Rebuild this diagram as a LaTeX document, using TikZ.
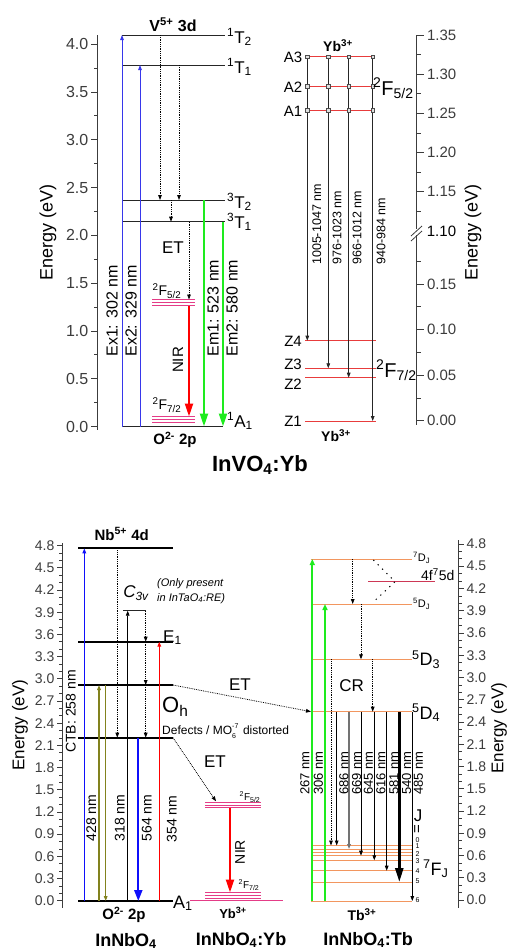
\documentclass[tikz,border=0pt]{standalone}
\usepackage{fontspec}
\setmainfont{Liberation Sans}
\usepackage{xcolor}
\usetikzlibrary{arrows.meta, positioning, calc}
\definecolor{exblue}{RGB}{55,55,235}
\definecolor{pumpblue}{RGB}{15,15,250}
\definecolor{emgreen}{RGB}{30,235,30}
\definecolor{ybpink}{RGB}{228,60,135}
\definecolor{ybred}{RGB}{232,60,60}
\definecolor{tborange}{RGB}{242,150,95}
\definecolor{fdred}{RGB}{205,55,85}
\definecolor{mkolive}{RGB}{130,130,30}
\definecolor{axgray}{RGB}{60,60,60}
\newcommand{\fsz}[1]{\fontsize{#1}{#1}\selectfont}

\begin{document}
\begin{tikzpicture}[x=1pt, y=-1pt,
    lvl/.style={line width=0.7pt, black!85},
    blvl/.style={line width=1.8pt},
    ybl/.style={ybpink, line width=0.8pt},
    tbl/.style={tborange, line width=1pt},
    tarr/.style={-{Triangle[length=5pt,width=3.6pt]}},
    farr/.style={line width=2.2pt, -{Triangle[length=13pt,width=8pt]}},
    relax/.style={densely dotted, line width=0.8pt, -{Triangle[length=5pt,width=3.6pt]}},
    lab/.style={inner sep=0pt, font=\fsz{15}},
    vlab/.style={inner sep=0pt, rotate=90, font=\fsz{15}},
    axtick/.style={axgray, line width=0.8pt},
    sq/.style={draw=black!70, fill=black!12, minimum size=3.6pt, inner sep=0pt, line width=0.5pt}]
\useasboundingbox (0,0) rectangle (508,951);

\draw[axtick] (97.7,35) -- (97.7,430);
\foreach \i in {0,...,16} \draw[axtick] (97.7,{426.5-23.9*\i}) -- ++(-4,0);
\foreach \v in {0.0,0.5,1.0,1.5,2.0,2.5,3.0,3.5,4.0}
  \draw[axtick] (97.7,{426.5-95.6*\v}) -- ++(-7,0) node[lab, font=\fsz{16}, anchor=east, xshift=-2pt] {\v};
\node[vlab, font=\fsz{18}] (enV) at (48,232) {Energy (eV)};

\coordinate (vT2) at (122,35);
\coordinate (vT1) at (122,65);
\coordinate (vS2) at (122,200);
\coordinate (vS1) at (122,221.7);
\coordinate (vA1) at (122,426.5);
\coordinate (vF52) at (152,299.5);
\coordinate (vF72) at (152,416.5);
\foreach \c in {vT2,vT1,vS2,vS1} \draw[lvl] (\c) -- ++(103,0);
\draw[lvl] (vA1) -- ++(101,0);
\foreach \d in {0,3,6} {
  \draw[ybl] ($(vF52)+(0,\d)$) -- ++(43,0);
  \draw[ybl] ($(vF72)+(0,\d)$) -- ++(43,0);
}
\draw[tarr, exblue, line width=0.8pt] (vA1) -- (vT2);
\draw[tarr, exblue, line width=0.8pt] (140,0 |- vA1) -- (140,0 |- vT1);
\draw[relax] (160,0 |- vT2) -- (160,0 |- vS2);
\draw[relax] (179,0 |- vT1) -- (179,0 |- vS2);
\draw[relax] (171,0 |- vS2) -- (171,0 |- vS1);
\draw[relax] (189,0 |- vS1) -- (189,0 |- vF52);
\draw[farr, red] (189,305.5) -- (189,0 |- vF72);
\draw[farr, emgreen] (204,0 |- vS2) -- (204,0 |- vA1);
\draw[farr, emgreen] (223,0 |- vS1) -- (223,0 |- vA1);

\node[lab, font=\bfseries\fsz{16}] (v3d) at (173,25) {V\textsuperscript{5+} 3d};
\node[lab, font=\fsz{17}, anchor=base west] (lT2) at (227,43) {\textsuperscript{1}T\textsubscript{2}};
\node[lab, font=\fsz{17}, anchor=base west] (lT1) at (227,73) {\textsuperscript{1}T\textsubscript{1}};
\node[lab, font=\fsz{17}, anchor=base west] (lS2) at (227,208) {\textsuperscript{3}T\textsubscript{2}};
\node[lab, font=\fsz{17}, anchor=base west] (lS1) at (227,228) {\textsuperscript{3}T\textsubscript{1}};
\node[lab, font=\fsz{17}, anchor=base west] (lA1) at (227,427) {\textsuperscript{1}A\textsubscript{1}};
\node[lab, font=\fsz{17}] (etV) at (173,248) {ET};
\node[lab, font=\fsz{14}] (lF52) at (167,291) {\textsuperscript{2}F\textsubscript{5/2}};
\node[lab, font=\fsz{14}] (lF72) at (167,405) {\textsuperscript{2}F\textsubscript{7/2}};
\node[vlab, font=\fsz{15}] (nirV) at (178,360) {NIR};
\node[vlab, font=\fsz{16}] (ex1) at (112,311) {Ex1: 302 nm};
\node[vlab, font=\fsz{16}] (ex2) at (131,311) {Ex2: 329 nm};
\node[vlab, font=\fsz{16}] (em1) at (213,308) {Em1: 523 nm};
\node[vlab, font=\fsz{16}] (em2) at (232,308) {Em2: 580 nm};
\node[lab, font=\bfseries\fsz{15}] (o2pV) at (175,440) {O\textsuperscript{2-} 2p};
\node[lab, font=\bfseries\fsz{22}] (tInV) at (260,465) {InVO\textsubscript{4}:Yb};

\draw[axtick] (416.7,35) -- (416.7,425);
\foreach \i in {1,...,9} \draw[axtick] (416.7,{231-19.6*\i}) -- ++(4,0);
\foreach \i in {0,...,7} \draw[axtick] (416.7,{420.7-22.8*\i}) -- ++(4,0);
\foreach \v in {1.15,1.20,1.25,1.30,1.35}
  \draw[axtick] (416.7,{231-784*(\v-1.10)}) -- ++(7,0) node[lab, anchor=west, xshift=3pt] {\v};
\foreach \v in {0.00,0.05,0.10,0.15}
  \draw[axtick] (416.7,{420.7-911*\v}) -- ++(7,0) node[lab, anchor=west, xshift=3pt] {\v};
\node[lab, anchor=west] (brk) at (426.7,231) {1.10};
\fill[white] (413,229) rectangle (420,235);
\draw[axtick] (411,236) -- (422,226);
\draw[axtick] (411,241) -- (422,231);
\node[vlab, font=\fsz{18}] (enY) at (473,232) {Energy (eV)};

\coordinate (yA3) at (307.3,56.7);
\coordinate (yA2) at (307.3,86);
\coordinate (yA1) at (307.3,110);
\coordinate (yZ4) at (305,340.7);
\coordinate (yZ3) at (305,368.3);
\coordinate (yZ2) at (305,377.7);
\coordinate (yZ1) at (305,421);
\foreach \c in {yA3,yA2,yA1} \draw[ybred, line width=1pt] (\c) -- ++(67,0);
\foreach \c in {yZ4,yZ3,yZ2,yZ1} \draw[ybred, line width=1pt] (\c) -- ++(71,0);
\foreach \x/\z in {307.3/yZ4, 328.3/yZ3, 348.7/yZ2, 372.7/yZ1} {
  \draw[tarr, black!85, line width=0.8pt] (\x,0 |- yA3) -- (\x,0 |- \z);
  \foreach \a in {yA3,yA2,yA1} \node[sq] at (\x,0 |- \a) {};
}
\foreach \x/\txt in {316.7/1005-1047, 337/976-1023, 357/966-1012, 381/940-984}
  \node[vlab, font=\fsz{12.5}, anchor=west] at (\x,265) {\txt{} nm};
\foreach \c/\txt in {yA3/A3, yA2/A2, yA1/A1}
  \node[lab, anchor=east] at ($(\c)+(-5,1)$) {\txt};
\foreach \y/\txt in {341.5/Z4, 364.5/Z3, 384/Z2, 421/Z1}
  \node[lab, anchor=east] at (302,\y) {\txt};
\node[lab, font=\bfseries\fsz{14}] (ybA) at (338,46) {Yb\textsuperscript{3+}};
\node[lab, font=\bfseries\fsz{14}] (ybZ) at (336,436) {Yb\textsuperscript{3+}};
\node[lab, font=\fsz{20}, anchor=west] (lF52y) at (373,88) {\textsuperscript{2}F\textsubscript{5/2}};
\node[lab, font=\fsz{20}, anchor=west] (lF72y) at (376,370) {\textsuperscript{2}F\textsubscript{7/2}};

\draw[axtick] (62.7,543) -- (62.7,908);
\foreach \i in {0,...,48} \draw[axtick] (62.7,{900.7-7.396*\i}) -- ++(-3.5,0);
\foreach \v in {0.0,0.3,0.6,0.9,1.2,1.5,1.8,2.1,2.4,2.7,3.0,3.3,3.6,3.9,4.2,4.5,4.8}
  \draw[axtick] (62.7,{900.7-73.96*\v}) -- ++(-6,0) node[lab, font=\fsz{14}, anchor=east, xshift=-2pt] {\v};
\node[vlab, font=\fsz{17}] (enN) at (20,725) {Energy (eV)};

\coordinate (nb4d) at (78,548.3);
\coordinate (c3v) at (123,610.7);
\coordinate (e1) at (78,641.7);
\coordinate (oh) at (78,685);
\coordinate (dft) at (78,737.7);
\coordinate (o2p) at (78,901);
\foreach \c in {nb4d,e1,oh,dft,o2p} \draw[blvl] (\c) -- ++(95,0);
\draw[lvl] (c3v) -- ++(23,0);
\draw[tarr, pumpblue, line width=1.6pt] (84.3,0 |- o2p) -- (84.3,0 |- nb4d);
\draw[tarr, mkolive, line width=1.1pt] (99,0 |- o2p) -- (99,0 |- oh);
\draw[tarr, mkolive, line width=1.1pt] (105.7,0 |- oh) -- (105.7,0 |- o2p);
\draw[tarr, line width=0.7pt] (127.7,0 |- o2p) -- (127.7,0 |- c3v);
\draw[pumpblue, line width=2pt, -{Triangle[length=11pt,width=8pt]}] (138.3,0 |- dft) -- (138.3,0 |- o2p);
\draw[tarr, red, line width=1.2pt] (159.3,0 |- o2p) -- (159.3,0 |- e1);
\draw[relax] (117.3,0 |- nb4d) -- (117.3,0 |- dft);
\draw[relax] (145.7,0 |- c3v) -- (145.7,0 |- e1);
\draw[relax] (145.7,0 |- e1) -- (145.7,0 |- oh);
\draw[relax] (145.7,0 |- oh) -- (145.7,0 |- dft);

\node[lab, font=\bfseries\fsz{15}] (nbl) at (121.7,534) {Nb\textsuperscript{5+} 4d};
\node[lab, font=\itshape\fsz{17}] (c3vl) at (136,593) {C\textsubscript{3v}};
\node[lab, font=\itshape\fontsize{11}{15}\selectfont, anchor=west, align=left] (onlyl) at (157,591) {(Only present\\in InTaO\textsubscript{4}:RE)};
\node[lab, font=\fsz{17}, anchor=base west] (e1l) at (163,642) {E\textsubscript{1}};
\node[lab, font=\fsz{22}, anchor=base west] (ohl) at (162,712) {O\textsubscript{h}};
\node[lab, font=\fsz{12}, anchor=west] (dftl) at (162,731) {Defects / MO\rlap{\raisebox{0.5em}{\fsz{7}-7}}\raisebox{-0.3em}{\fsz{7}6}\kern0.3em{} distorted};
\node[lab, font=\fsz{18}, anchor=base west] (a1l) at (173,908) {A\textsubscript{1}};
\node[vlab, font=\fsz{14}] (ctb) at (70.7,711.5) {CTB: 258 nm};
\node[vlab, font=\fsz{14}] (w428) at (91.3,818) {428 nm};
\node[vlab, font=\fsz{14}] (w318) at (119.7,818) {318 nm};
\node[vlab, font=\fsz{14}] (w564) at (146.7,818) {564 nm};
\node[vlab, font=\fsz{14}] (w354) at (171.7,819) {354 nm};
\node[lab, font=\bfseries\fsz{15}] (o2pl) at (124,915) {O\textsuperscript{2-} 2p};
\node[lab, font=\bfseries\fsz{18}] (tInN) at (126,941) {InNbO\textsubscript{4}};

\coordinate (ybF52) at (205,802.3);
\coordinate (ybF72) at (205,892.5);
\coordinate (ybG) at (190,900.7);
\foreach \d in {0,2.7,5.4} {
  \draw[ybl] ($(ybF52)+(0,\d)$) -- ++(56,0);
  \draw[ybl] ($(ybF72)+(0,\d)$) -- ++(56,0);
}
\draw[ybl] (ybG) -- ++(93,0);
\draw[farr, red] (230,808) -- (230,0 |- ybF72);
\draw[relax] ($(dft)+(95,0)$) -- ($(ybF52)+(11,-1)$);
\node[lab, font=\fsz{17}] (etY) at (215,762) {ET};
\node[lab, font=\fsz{10}] (l52b) at (250,797) {\textsuperscript{2}F\textsubscript{5/2}};
\node[lab, font=\fsz{10}] (l72b) at (249,885) {\textsuperscript{2}F\textsubscript{7/2}};
\node[vlab, font=\fsz{14}] (nirB) at (240,852) {NIR};
\node[lab, font=\bfseries\fsz{13}] (ybB) at (233,913) {Yb\textsuperscript{3+}};
\node[lab, font=\bfseries\fsz{18}] (tInY) at (241,940) {InNbO\textsubscript{4}:Yb};

\coordinate (tD7) at (311,559);
\coordinate (t45d) at (368,581.7);
\coordinate (tDJ) at (311,604);
\coordinate (tD3) at (311,659.3);
\coordinate (tD4) at (311,711.7);
\foreach \c in {tD7,tDJ,tD3,tD4} \draw[tbl] (\c) -- ++(101,0);
\draw[fdred, line width=1pt] (t45d) -- ++(67,0);
\foreach \y in {845.5,849,852,855.7,860.3,870.7,882,901} \draw[tbl] (311,\y) -- (412,\y);
\draw[emgreen, line width=1.8pt, -{Triangle[length=6pt,width=5pt]}] (312.3,901) -- (312.3,0 |- tD7);
\draw[emgreen, line width=1.8pt, -{Triangle[length=6pt,width=5pt]}] (325,901) -- (325,0 |- tDJ);
\draw[relax] (352.7,0 |- tD7) -- (352.7,0 |- tDJ);
\draw[relax] (361,0 |- tDJ) -- (361,0 |- tD3);
\draw[relax] (372.7,0 |- tD3) -- (372.7,0 |- tD4);
\draw[relax] (331,0 |- tD3) -- (331,845.5);
\draw[dash pattern=on 1.2pt off 5pt, line width=1pt] (373.3,560) -- (395,0 |- t45d) -- (373.3,602);
\draw[relax] ($(oh)+(95,0)$) -- (tD4);
\node[lab, font=\fsz{17}] (etT) at (240,685) {ET};
\foreach \x/\y/\w in {336.7/845.5/0.8pt, 361/855.7/0.8pt, 374.3/860.3/0.8pt, 386.7/870.7/0.8pt, 412.3/901/0.8pt}
  \draw[tarr, line width=\w] (\x,0 |- tD4) -- (\x,\y);
\draw[tarr, black!55, line width=1.5pt] (349,0 |- tD4) -- (349,849);
\draw[line width=2.6pt, -{Triangle[length=14pt,width=8pt]}] (399.3,0 |- tD4) -- (399.3,882);
\foreach \x/\txt in {305/267, 318.3/306, 344/686, 356.7/669, 368.3/645, 381/616, 394/581, 406.7/540, 418.3/485}
  \node[vlab, font=\fsz{13}] at (\x,773) {\txt{} nm};
\node[lab, font=\fsz{17}] (crl) at (351.7,686) {CR};
\node[lab, font=\fsz{11}, anchor=west] (d7l) at (413,558) {\textsuperscript{7}D\textsubscript{J}};
\node[lab, font=\fsz{14}, anchor=west] (fdl) at (421,575) {4f\textsuperscript{7}5d};
\node[lab, font=\fsz{11}, anchor=west] (djl) at (413,604) {\textsuperscript{5}D\textsubscript{J}};
\node[lab, font=\fsz{18}, anchor=west] (d3l) at (412,660) {\textsuperscript{5}D\textsubscript{3}};
\node[lab, font=\fsz{18}, anchor=west] (d4l) at (412,713) {\textsuperscript{5}D\textsubscript{4}};
\node[lab, font=\fsz{17}] (jl) at (418,816) {J};
\node[lab, font=\fsz{15}, rotate=90] (eql) at (418,829) {=};
\foreach \j/\y in {0/840.2, 1/846.4, 2/853.6, 3/860.8, 4/871.2, 5/881.4, 6/900}
  \node[lab, font=\fsz{7}, text height=4.8pt, text depth=0pt] at (417.5,\y) {\j};
\node[lab, font=\fsz{18}, anchor=west] (fjl) at (423,869) {\textsuperscript{7}F\textsubscript{J}};
\node[lab, font=\bfseries\fsz{14}] (tbl3) at (362,915) {Tb\textsuperscript{3+}};
\node[lab, font=\bfseries\fsz{18}] (tInT) at (368,940) {InNbO\textsubscript{4}:Tb};

\draw[axtick] (458.3,540) -- (458.3,908);
\foreach \i in {0,...,48} \draw[axtick] (458.3,{900-7.417*\i}) -- ++(3.5,0);
\foreach \v in {0.0,0.3,0.6,0.9,1.2,1.5,1.8,2.1,2.4,2.7,3.0,3.3,3.6,3.9,4.2,4.5,4.8}
  \draw[axtick] (458.3,{900-74.17*\v}) -- ++(6,0) node[lab, font=\fsz{14}, anchor=west, xshift=2pt] {\v};
\node[vlab, font=\fsz{17}] (enT) at (499,728) {Energy (eV)};
\end{tikzpicture}
\end{document}
